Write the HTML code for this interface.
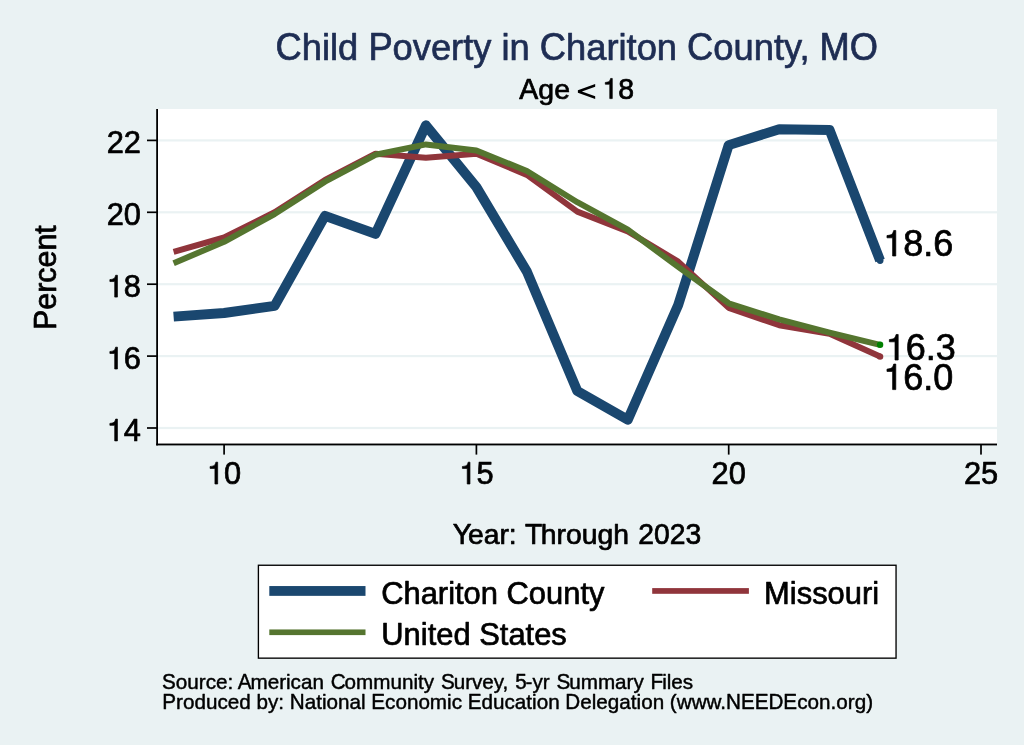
<!DOCTYPE html>
<html><head><meta charset="utf-8"><title>Child Poverty in Chariton County, MO</title>
<style>
html,body{margin:0;padding:0;background:#eaf2f3;}
svg{display:block;will-change:transform;}
text{font-family:"Liberation Sans",sans-serif;stroke-linejoin:round;}
.h{fill:none;stroke:none;}
</style></head><body>
<svg width="1024" height="745" viewBox="0 0 1024 745">
<rect x="0" y="0" width="1024" height="745" fill="#eaf2f3"/>
<rect x="158" y="109" width="839" height="335.5" fill="#ffffff"/>
<rect x="158" y="426.90" width="839" height="2.2" fill="#eaf2f3"/><rect x="158" y="355.00" width="839" height="2.2" fill="#eaf2f3"/><rect x="158" y="283.10" width="839" height="2.2" fill="#eaf2f3"/><rect x="158" y="211.20" width="839" height="2.2" fill="#eaf2f3"/><rect x="158" y="139.30" width="839" height="2.2" fill="#eaf2f3"/>
<g fill="none" stroke-linejoin="round" stroke-linecap="butt">
<path d="M173.6,316.6 L224.1,313.0 L274.6,305.8 L325.0,215.9 L375.5,233.9 L425.9,125.3 L476.4,187.1 L526.9,271.6 L577.3,391.0 L627.8,419.7 L678.2,305.1 L728.7,145.1 L779.2,129.3 L829.6,130.0 L880.1,260.5" stroke="#1a476f" stroke-width="9.9"/>
<path d="M173.6,251.8 L224.1,237.5 L274.6,212.3 L325.0,179.9 L375.5,153.7 L425.9,157.7 L476.4,153.7 L526.9,174.9 L577.3,211.6 L627.8,231.4 L678.2,261.6 L728.7,307.9 L779.2,325.2 L829.6,333.8 L880.1,356.6" stroke="#90353b" stroke-width="6.0"/>
<path d="M173.6,263.2 L224.1,241.8 L274.6,214.1 L325.0,181.7 L375.5,154.8 L425.9,144.4 L476.4,150.5 L526.9,171.0 L577.3,202.2 L627.8,229.6 L678.2,266.9 L728.7,303.3 L779.2,319.4 L829.6,332.6 L880.1,344.8" stroke="#55752f" stroke-width="6.0"/>
</g>
<circle cx="880.1" cy="260.5" r="3.4" fill="#1a476f"/>
<circle cx="880.1" cy="356.6" r="3.2" fill="#90353b"/>
<circle cx="880.1" cy="344.8" r="3.2" fill="#008000"/>
<rect x="156.2" y="109" width="1.8" height="336.4" fill="#000"/>
<rect x="156.2" y="443.55" width="840.8" height="1.85" fill="#000"/>
<rect x="147" y="427.15" width="10" height="1.7" fill="#000"/><rect x="147" y="355.25" width="10" height="1.7" fill="#000"/><rect x="147" y="283.35" width="10" height="1.7" fill="#000"/><rect x="147" y="211.45" width="10" height="1.7" fill="#000"/><rect x="147" y="139.55" width="10" height="1.7" fill="#000"/><rect x="223.25" y="444.5" width="1.7" height="10.1" fill="#000"/><rect x="475.55" y="444.5" width="1.7" height="10.1" fill="#000"/><rect x="727.85" y="444.5" width="1.7" height="10.1" fill="#000"/><rect x="980.15" y="444.5" width="1.7" height="10.1" fill="#000"/>
<g transform="translate(141.00,440.90)" font-size="30.8" text-anchor="end" style="fill:#000;stroke:#000;stroke-width:0.7px"><text transform="scale(1,1.03)"><tspan class="h">1</tspan><tspan>4</tspan></text><path d="M259 0H347V709H289C258 600 239 585 102 568V505H259Z" transform="translate(-34.26,0) scale(0.03080,-0.03080)" fill="#000" stroke="#000" stroke-width="0.7" vector-effect="non-scaling-stroke" stroke-linejoin="round"/></g>
<g transform="translate(141.00,369.00)" font-size="30.8" text-anchor="end" style="fill:#000;stroke:#000;stroke-width:0.7px"><text transform="scale(1,1.03)"><tspan class="h">1</tspan><tspan>6</tspan></text><path d="M259 0H347V709H289C258 600 239 585 102 568V505H259Z" transform="translate(-34.26,0) scale(0.03080,-0.03080)" fill="#000" stroke="#000" stroke-width="0.7" vector-effect="non-scaling-stroke" stroke-linejoin="round"/></g>
<g transform="translate(141.00,297.10)" font-size="30.8" text-anchor="end" style="fill:#000;stroke:#000;stroke-width:0.7px"><text transform="scale(1,1.03)"><tspan class="h">1</tspan><tspan>8</tspan></text><path d="M259 0H347V709H289C258 600 239 585 102 568V505H259Z" transform="translate(-34.26,0) scale(0.03080,-0.03080)" fill="#000" stroke="#000" stroke-width="0.7" vector-effect="non-scaling-stroke" stroke-linejoin="round"/></g>
<g transform="translate(141.00,225.20)" font-size="30.8" text-anchor="end" style="fill:#000;stroke:#000;stroke-width:0.7px"><text transform="scale(1,1.03)"><tspan>20</tspan></text></g>
<g transform="translate(141.00,153.30)" font-size="30.8" text-anchor="end" style="fill:#000;stroke:#000;stroke-width:0.7px"><text transform="scale(1,1.03)"><tspan>22</tspan></text></g>
<g transform="translate(224.10,484.00)" font-size="30.8" text-anchor="middle" style="fill:#000;stroke:#000;stroke-width:0.7px"><text transform="scale(1,1.03)"><tspan class="h">1</tspan><tspan>0</tspan></text><path d="M259 0H347V709H289C258 600 239 585 102 568V505H259Z" transform="translate(-17.13,0) scale(0.03080,-0.03080)" fill="#000" stroke="#000" stroke-width="0.7" vector-effect="non-scaling-stroke" stroke-linejoin="round"/></g>
<g transform="translate(476.40,484.00)" font-size="30.8" text-anchor="middle" style="fill:#000;stroke:#000;stroke-width:0.7px"><text transform="scale(1,1.03)"><tspan class="h">1</tspan><tspan>5</tspan></text><path d="M259 0H347V709H289C258 600 239 585 102 568V505H259Z" transform="translate(-17.13,0) scale(0.03080,-0.03080)" fill="#000" stroke="#000" stroke-width="0.7" vector-effect="non-scaling-stroke" stroke-linejoin="round"/></g>
<g transform="translate(728.70,484.00)" font-size="30.8" text-anchor="middle" style="fill:#000;stroke:#000;stroke-width:0.7px"><text transform="scale(1,1.03)"><tspan>20</tspan></text></g>
<g transform="translate(981.00,484.00)" font-size="30.8" text-anchor="middle" style="fill:#000;stroke:#000;stroke-width:0.7px"><text transform="scale(1,1.03)"><tspan>25</tspan></text></g>
<g transform="translate(883.30,256.00)" font-size="36.0" text-anchor="start" style="fill:#000;stroke:#000;stroke-width:0.7px"><text id="ml1"><tspan class="h">1</tspan><tspan class="h">8</tspan><tspan>.</tspan><tspan class="h">6</tspan></text><text aria-hidden="true" transform="scale(1,1.03)"><tspan class="h">1</tspan><tspan>8</tspan><tspan class="h">.</tspan><tspan>6</tspan></text><path d="M259 0H347V709H289C258 600 239 585 102 568V505H259Z" transform="translate(0.00,0) scale(0.03600,-0.03600)" fill="#000" stroke="#000" stroke-width="0.7" vector-effect="non-scaling-stroke" stroke-linejoin="round"/></g>
<g transform="translate(885.70,360.00)" font-size="36.0" text-anchor="start" style="fill:#000;stroke:#000;stroke-width:0.7px"><text id="ml2"><tspan class="h">1</tspan><tspan class="h">6</tspan><tspan>.</tspan><tspan class="h">3</tspan></text><text aria-hidden="true" transform="scale(1,1.03)"><tspan class="h">1</tspan><tspan>6</tspan><tspan class="h">.</tspan><tspan>3</tspan></text><path d="M259 0H347V709H289C258 600 239 585 102 568V505H259Z" transform="translate(0.00,0) scale(0.03600,-0.03600)" fill="#000" stroke="#000" stroke-width="0.7" vector-effect="non-scaling-stroke" stroke-linejoin="round"/></g>
<g transform="translate(883.30,389.60)" font-size="36.0" text-anchor="start" style="fill:#000;stroke:#000;stroke-width:0.7px"><text id="ml3"><tspan class="h">1</tspan><tspan class="h">6</tspan><tspan>.</tspan><tspan class="h">0</tspan></text><text aria-hidden="true" transform="scale(1,1.03)"><tspan class="h">1</tspan><tspan>6</tspan><tspan class="h">.</tspan><tspan>0</tspan></text><path d="M259 0H347V709H289C258 600 239 585 102 568V505H259Z" transform="translate(0.00,0) scale(0.03600,-0.03600)" fill="#000" stroke="#000" stroke-width="0.7" vector-effect="non-scaling-stroke" stroke-linejoin="round"/></g>
<g transform="translate(576.80,59.80)" font-size="36.3" text-anchor="middle" style="fill:#1e2d53;stroke:#1e2d53;stroke-width:0.7px"><text id="title"><tspan class="h">C</tspan><tspan>hild </tspan><tspan class="h">P</tspan><tspan>overty in </tspan><tspan class="h">C</tspan><tspan>hariton </tspan><tspan class="h">C</tspan><tspan>ounty, </tspan><tspan class="h">MO</tspan></text><text aria-hidden="true" transform="scale(1,1.044)"><tspan>C</tspan><tspan class="h">hild </tspan><tspan>P</tspan><tspan class="h">overty in </tspan><tspan>C</tspan><tspan class="h">hariton </tspan><tspan>C</tspan><tspan class="h">ounty, </tspan><tspan>MO</tspan></text></g>
<g transform="translate(576.70,98.60)" font-size="28.45" text-anchor="middle" style="fill:#000;stroke:#000;stroke-width:0.7px"><text id="sub"><tspan class="h">A</tspan><tspan>ge </tspan><tspan class="h">&lt;</tspan><tspan> </tspan><tspan class="h">1</tspan><tspan class="h">8</tspan></text><text aria-hidden="true" transform="scale(1,1.044)"><tspan>A</tspan><tspan class="h">ge </tspan><tspan class="h">&lt;</tspan><tspan class="h"> </tspan><tspan class="h">1</tspan><tspan class="h">8</tspan></text><text aria-hidden="true" transform="scale(1,1.03)"><tspan class="h">A</tspan><tspan class="h">ge </tspan><tspan class="h">&lt;</tspan><tspan class="h"> </tspan><tspan class="h">1</tspan><tspan>8</tspan></text><polygon points="18.48,-14.70 1.18,-8.40 1.18,-5.80 18.48,0.50 18.48,-2.25 5.18,-7.10 18.48,-11.95" style="fill:#000;stroke:none"/><path d="M259 0H347V709H289C258 600 239 585 102 568V505H259Z" transform="translate(25.70,0) scale(0.02845,-0.02845)" fill="#000" stroke="#000" stroke-width="0.7" vector-effect="non-scaling-stroke" stroke-linejoin="round"/></g>
<g transform="translate(56.10,277.60) rotate(-90)" font-size="30.4304" text-anchor="middle" style="fill:#000;stroke:#000;stroke-width:0.7px"><text id="ytitle"><tspan class="h">P</tspan><tspan>ercent</tspan></text><text aria-hidden="true" transform="scale(1,1.044)"><tspan>P</tspan><tspan class="h">ercent</tspan></text></g>
<g transform="translate(577.00,543.70)" font-size="28.3" text-anchor="middle" style="fill:#000;stroke:#000;stroke-width:0.7px"><text id="xtitle"><tspan class="h">Y</tspan><tspan dx="-2.60">ear: </tspan><tspan class="h" dx="-0.51">T</tspan><tspan>hrough </tspan><tspan class="h">2023</tspan></text><text aria-hidden="true" transform="scale(1,1.044)"><tspan>Y</tspan><tspan class="h" dx="-2.60">ear: </tspan><tspan dx="-0.51">T</tspan><tspan class="h">hrough </tspan><tspan class="h">2023</tspan></text><text aria-hidden="true" transform="scale(1,1.03)"><tspan class="h">Y</tspan><tspan class="h" dx="-2.60">ear: </tspan><tspan class="h" dx="-0.51">T</tspan><tspan class="h">hrough </tspan><tspan>2023</tspan></text></g>
<rect x="258.4" y="565.25" width="637.65" height="92.9" fill="#ffffff" stroke="#000" stroke-width="1.35"/>
<rect x="269.3" y="586.05" width="96.2" height="9.8" fill="#1a476f"/>
<rect x="652.2" y="588.1" width="96.7" height="5.7" fill="#90353b"/>
<rect x="269.3" y="629.45" width="96.2" height="5.65" fill="#55752f"/>
<g transform="translate(381.20,604.00)" font-size="30.9" text-anchor="start" style="fill:#000;stroke:#000;stroke-width:0.7px"><text id="lg1"><tspan class="h">C</tspan><tspan>hariton </tspan><tspan class="h">C</tspan><tspan>ounty</tspan></text><text aria-hidden="true" transform="scale(1,1.044)"><tspan>C</tspan><tspan class="h">hariton </tspan><tspan>C</tspan><tspan class="h">ounty</tspan></text></g>
<g transform="translate(764.10,604.00)" font-size="30.9" text-anchor="start" style="fill:#000;stroke:#000;stroke-width:0.7px"><text id="lg2"><tspan class="h">M</tspan><tspan>issouri</tspan></text><text aria-hidden="true" transform="scale(1,1.044)"><tspan>M</tspan><tspan class="h">issouri</tspan></text></g>
<g transform="translate(381.30,645.30)" font-size="30.9" text-anchor="start" style="fill:#000;stroke:#000;stroke-width:0.7px"><text id="lg3"><tspan class="h">U</tspan><tspan>nited </tspan><tspan class="h">S</tspan><tspan>tates</tspan></text><text aria-hidden="true" transform="scale(1,1.044)"><tspan>U</tspan><tspan class="h">nited </tspan><tspan>S</tspan><tspan class="h">tates</tspan></text></g>
<g transform="translate(162.00,689.20)" font-size="20.67" text-anchor="start" style="fill:#000;stroke:#000;stroke-width:0.45px"><text id="n1"><tspan class="h">S</tspan><tspan>ource: </tspan><tspan class="h" dx="-1.14">A</tspan><tspan>merican </tspan><tspan class="h">C</tspan><tspan>ommunity </tspan><tspan class="h">S</tspan><tspan>urvey, </tspan><tspan class="h">5</tspan><tspan>-yr </tspan><tspan class="h">S</tspan><tspan>ummary </tspan><tspan class="h">F</tspan><tspan>iles</tspan></text><text aria-hidden="true" transform="scale(1,1.044)"><tspan>S</tspan><tspan class="h">ource: </tspan><tspan dx="-1.14">A</tspan><tspan class="h">merican </tspan><tspan>C</tspan><tspan class="h">ommunity </tspan><tspan>S</tspan><tspan class="h">urvey, </tspan><tspan class="h">5</tspan><tspan class="h">-yr </tspan><tspan>S</tspan><tspan class="h">ummary </tspan><tspan>F</tspan><tspan class="h">iles</tspan></text><text aria-hidden="true" transform="scale(1,1.03)"><tspan class="h">S</tspan><tspan class="h">ource: </tspan><tspan class="h" dx="-1.14">A</tspan><tspan class="h">merican </tspan><tspan class="h">C</tspan><tspan class="h">ommunity </tspan><tspan class="h">S</tspan><tspan class="h">urvey, </tspan><tspan>5</tspan><tspan class="h">-yr </tspan><tspan class="h">S</tspan><tspan class="h">ummary </tspan><tspan class="h">F</tspan><tspan class="h">iles</tspan></text></g>
<g transform="translate(162.30,709.10)" font-size="20.67" text-anchor="start" style="fill:#000;stroke:#000;stroke-width:0.45px"><text id="n2"><tspan class="h">P</tspan><tspan>roduced by: </tspan><tspan class="h">N</tspan><tspan>ational </tspan><tspan class="h">E</tspan><tspan>conomic </tspan><tspan class="h">E</tspan><tspan>ducation </tspan><tspan class="h">D</tspan><tspan>elegation (www.</tspan><tspan class="h">NEEDE</tspan><tspan>con.org)</tspan></text><text aria-hidden="true" transform="scale(1,1.044)"><tspan>P</tspan><tspan class="h">roduced by: </tspan><tspan>N</tspan><tspan class="h">ational </tspan><tspan>E</tspan><tspan class="h">conomic </tspan><tspan>E</tspan><tspan class="h">ducation </tspan><tspan>D</tspan><tspan class="h">elegation (www.</tspan><tspan>NEEDE</tspan><tspan class="h">con.org)</tspan></text></g>
</svg>
</body></html>
